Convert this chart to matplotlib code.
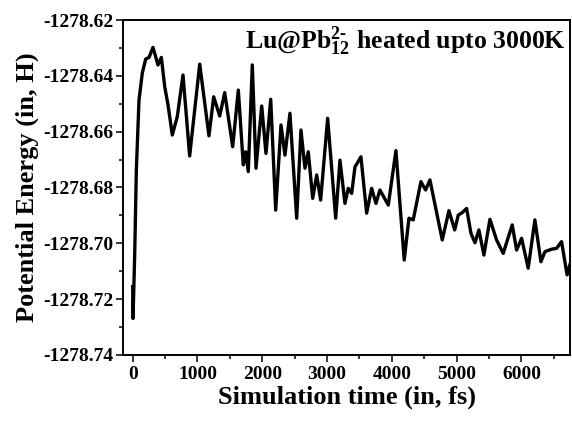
import matplotlib
matplotlib.use("Agg")
import matplotlib.pyplot as plt
from matplotlib.ticker import MultipleLocator, FormatStrFormatter

# values (peaks / troughs)
time_fs = [0, 5, 31, 56, 97, 148, 200, 252, 313, 390, 442, 494, 545, 611, 688,
           776, 879, 1034, 1177, 1250, 1343, 1420, 1543, 1630, 1707, 1744, 1784,
           1846, 1903, 1991, 2057, 2130, 2207, 2289, 2350, 2427, 2531, 2597, 2659,
           2710, 2778, 2840, 2901, 3009, 3133, 3199, 3276, 3327, 3380, 3431, 3466,
           3523, 3611, 3688, 3755, 3816, 3945, 4063, 4191, 4264, 4330, 4449, 4521,
           4588, 4778, 4881, 4970, 5025, 5086, 5154, 5221, 5283, 5344, 5421, 5514,
           5617, 5719, 5858, 5926, 6003, 6105, 6208, 6301, 6363, 6466, 6543, 6620,
           6705, 6760]
energy_h = [-1278.7155, -1278.7269, -1278.7035, -1278.6737, -1278.6487, -1278.6390,
            -1278.6340, -1278.6334, -1278.6298, -1278.6361, -1278.6334, -1278.6439,
            -1278.6504, -1278.6612, -1278.6546, -1278.6397, -1278.6687, -1278.6358,
            -1278.6615, -1278.6475, -1278.6544, -1278.6460, -1278.6654, -1278.6451,
            -1278.6719, -1278.6672, -1278.6743, -1278.6361, -1278.6731, -1278.6508,
            -1278.6678, -1278.6484, -1278.6881, -1278.6576, -1278.6684, -1278.6534,
            -1278.6910, -1278.6594, -1278.6731, -1278.6672, -1278.6839, -1278.6755,
            -1278.6845, -1278.6552, -1278.6910, -1278.6702, -1278.6857, -1278.6803,
            -1278.6821, -1278.6726, -1278.6713, -1278.6690, -1278.6892, -1278.6803,
            -1278.6857, -1278.6809, -1278.6863, -1278.6668, -1278.7060, -1278.6910,
            -1278.6916, -1278.6779, -1278.6809, -1278.6773, -1278.6988, -1278.6883,
            -1278.6952, -1278.6899, -1278.6890, -1278.6875, -1278.6964, -1278.6998,
            -1278.6952, -1278.7042, -1278.6914, -1278.6988, -1278.7036, -1278.6934,
            -1278.7024, -1278.6982, -1278.7089, -1278.6916, -1278.7066, -1278.7030,
            -1278.7021, -1278.7018, -1278.6994, -1278.7113, -1278.7067]

plt.rcParams["font.family"] = "Liberation Serif"
plt.rcParams["font.weight"] = "bold"
plt.rcParams["mathtext.fontset"] = "custom"
plt.rcParams["mathtext.rm"] = "Liberation Serif:bold"
plt.rcParams["mathtext.bf"] = "Liberation Serif:bold"
plt.rcParams["mathtext.it"] = "Liberation Serif:bold"

fig = plt.figure(figsize=(5.72, 4.23), dpi=100)
ax = fig.add_axes([0.2156, 0.1608, 0.9965 - 0.2156, 0.9527 - 0.1608])

ax.plot(time_fs, energy_h, color="black", lw=2.4, solid_joinstyle="round")

ax.set_xlim(-145, 6750)
ax.set_ylim(-1278.74, -1278.62)
ax.xaxis.set_major_locator(MultipleLocator(1000))
ax.xaxis.set_minor_locator(MultipleLocator(500))
ax.yaxis.set_major_locator(MultipleLocator(0.02))
ax.yaxis.set_minor_locator(MultipleLocator(0.01))
ax.yaxis.set_major_formatter(FormatStrFormatter("%.2f"))

for s in ax.spines.values():
    s.set_linewidth(1.4)
ax.tick_params(which="major", direction="out", length=5, width=1.1, labelsize=14)
ax.tick_params(which="minor", direction="out", length=3, width=1.1)
ax.tick_params(axis="x", which="major", pad=3)
ax.tick_params(axis="y", which="major", pad=2)
for lab in ax.get_xticklabels() + ax.get_yticklabels():
    lab.set_fontweight("bold")

ax.set_xlabel("Simulation time (in, fs)", fontsize=19, fontweight="bold", labelpad=2)
ax.set_ylabel("Potential Energy (in, H)", fontsize=19, fontweight="bold", labelpad=3)

ax.text(0.99, 0.985, r"Lu@Pb$^{2\text{-}}_{12}\ $heated upto 3000K", transform=ax.transAxes,
        ha="right", va="top", fontsize=18.5, fontweight="bold")

fig.savefig("out.png", dpi=100)
